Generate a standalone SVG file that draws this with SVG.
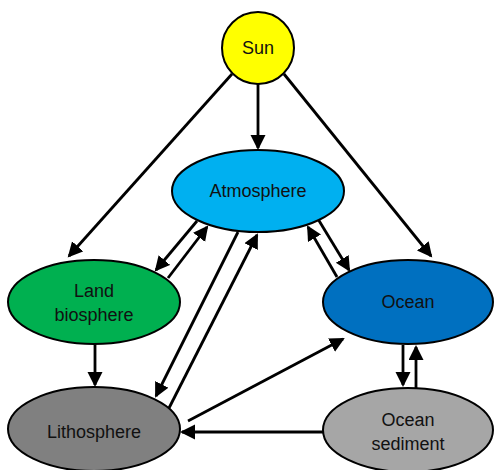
<svg xmlns="http://www.w3.org/2000/svg" width="494" height="470" viewBox="0 0 494 470">
<style>
.n{stroke:#000;stroke-width:2}
.t{font-family:"Liberation Sans",Arial,sans-serif;font-size:18px;fill:#111;text-anchor:middle}
.c line{stroke:#000;stroke-width:2.8;marker-end:url(#ah)}
</style>
<defs>
<marker id="ah" markerUnits="userSpaceOnUse" markerWidth="18" markerHeight="18" refX="13" refY="7.5" orient="auto">
<path d="M0,0 L15,7.5 L0,15 Z" fill="#000"/>
</marker>
</defs>
<rect width="494" height="470" fill="#fff"/>
<g id="connectors" class="c">
<line x1="258" y1="84" x2="258" y2="148"/>
<line x1="232" y1="74" x2="69" y2="256"/>
<line x1="284" y1="74" x2="431" y2="256"/>
<line x1="197" y1="221" x2="156" y2="270"/>
<line x1="168" y1="278" x2="207" y2="227"/>
<line x1="238" y1="232" x2="156" y2="396"/>
<line x1="168" y1="410" x2="257" y2="235"/>
<line x1="318" y1="219" x2="349" y2="270"/>
<line x1="337" y1="277" x2="308" y2="227"/>
<line x1="188" y1="421" x2="343" y2="339"/>
<line x1="324" y1="432" x2="182" y2="432"/>
<line x1="403" y1="345" x2="403" y2="385"/>
<line x1="416" y1="388" x2="416" y2="347"/>
<line x1="95" y1="344" x2="95" y2="385"/>
</g>
<g id="sun"><circle class="n" cx="258" cy="48" r="36" fill="#FFFF00"/><text class="t" x="258" y="54">Sun</text></g>
<g id="atmosphere"><ellipse class="n" cx="258" cy="191" rx="86" ry="41" fill="#00B0F0"/><text class="t" x="258" y="197">Atmosphere</text></g>
<g id="land"><ellipse class="n" cx="94" cy="302" rx="86" ry="42" fill="#00B050"/><text class="t" x="94" y="297">Land</text><text class="t" x="94" y="321">biosphere</text></g>
<g id="ocean"><ellipse class="n" cx="408" cy="302" rx="85" ry="42" fill="#0070C0"/><text class="t" x="408" y="308">Ocean</text></g>
<g id="lithosphere"><ellipse class="n" cx="94" cy="429" rx="86" ry="42" fill="#808080"/><text class="t" x="94" y="438">Lithosphere</text></g>
<g id="sediment"><ellipse class="n" cx="408" cy="430" rx="85" ry="42" fill="#A6A6A6"/><text class="t" x="408" y="426">Ocean</text><text class="t" x="408" y="450">sediment</text></g>
</svg>
